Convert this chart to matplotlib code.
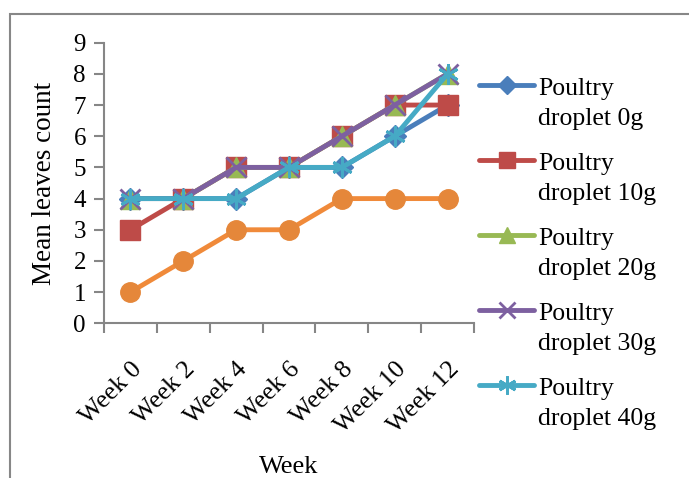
import numpy as np
import matplotlib

matplotlib.use("Agg")
import matplotlib.pyplot as plt
from matplotlib.lines import Line2D
from matplotlib.patches import Rectangle
from matplotlib.transforms import ScaledTranslation

plt.rcParams["font.family"] = ["Liberation Serif", "DejaVu Serif"]

# Data
weeks = ["Week 0", "Week 2", "Week 4", "Week 6", "Week 8", "Week 10", "Week 12"]
droplet_0g = [4, 4, 4, 5, 5, 6, 7]
droplet_10g = [3, 4, 5, 5, 6, 7, 7]
droplet_20g = [4, 4, 5, 5, 6, 7, 8]
droplet_30g = [4, 4, 5, 5, 6, 7, 8]
droplet_40g = [4, 4, 4, 5, 5, 6, 8]
extra_series = [1, 2, 3, 3, 4, 4, 4]  # orange line, no legend entry

labels = ["0g", "10g", "20g", "30g", "40g"]
series = [droplet_0g, droplet_10g, droplet_20g, droplet_30g, droplet_40g]
colors = ["#4A7EBB", "#BE4B48", "#98B954", "#7D60A0", "#46AAC5"]
markers = ["D", "s", "^", "x", (6, 2, 0)]
msizes = [11, 14, 14, 14, 15]

W, H = 689, 478
fig = plt.figure(figsize=(W / 100, H / 100), dpi=100)

# outer chart border (cut off at right and bottom)
fig.patches.append(Rectangle((10 / W, -0.1), 2, 1 - 14 / H + 0.1,
                             transform=fig.transFigure, fill=False,
                             edgecolor="#878787", lw=1.5))

ax = fig.add_axes([104 / W, 1 - 323.3 / H, 370 / W, 280.6 / H])
x = np.arange(len(weeks))

for vals, c, m, ms in zip(series, colors, markers, msizes):
    ax.plot(x, vals, color=c, lw=3.5, marker=m, ms=ms, mfc=c, mec=c,
            mew=2 if m in ("x",) or isinstance(m, tuple) else 1,
            solid_capstyle="round", clip_on=False)
ax.plot(x, extra_series, color="#F08A3A", lw=3.5, marker="o", ms=14,
        mfc="#E5873A", mec="#E5873A", clip_on=False)

ax.set_xlim(-0.5, 6.5)
ax.set_ylim(0, 9)
ax.set_yticks(range(10))
ax.set_xticks(np.arange(-0.5, 7, 1))
ax.set_xticklabels([])
ax.set_xticks(x, minor=True)
ax.set_xticklabels(weeks, minor=True, rotation=45, ha="right",
                   rotation_mode="anchor", fontsize=18.5)
# nudge rotated labels a little to the left
shift = ScaledTranslation(-5 / 100, 0, fig.dpi_scale_trans)
for lbl in ax.get_xticklabels(minor=True):
    lbl.set_transform(lbl.get_transform() + shift)
ax.tick_params(axis="x", which="minor", length=0, pad=25)
ax.tick_params(axis="x", which="major", length=7, width=1.5, color="#868686")
ax.tick_params(axis="y", length=7, width=1.5, color="#868686", labelsize=18,
               pad=6)
for s in ("top", "right"):
    ax.spines[s].set_visible(False)
for s in ("left", "bottom"):
    ax.spines[s].set_color("#868686")
    ax.spines[s].set_linewidth(1.5)

fig.text(45 / W, 1 - 183 / H, "Mean leaves count", rotation=90,
         ha="center", va="center", fontsize=19.5)
fig.text(289 / W, 1 - 473 / H, "Week", ha="center", va="baseline",
         fontsize=19)

# legend, drawn by hand so the handle sits on the first text line
for i, (lab, c, m, ms) in enumerate(zip(labels, colors, markers, msizes)):
    yc = 1 - (85 + 75 * i) / H
    fig.add_artist(Line2D([479 / W, 534 / W], [yc, yc], color=c, lw=3.5,
                          solid_capstyle="round"))
    fig.add_artist(Line2D([506.5 / W], [yc], color=c, marker=m,
                          ms=ms - 2, mfc=c, mec=c,
                          mew=2 if m == "x" or isinstance(m, tuple) else 1))
    fig.text(538 / W, 1 - (95 + 75 * i) / H, "Poultry", va="baseline",
             fontsize=18.5)
    fig.text(538 / W, 1 - (125 + 75 * i) / H, "droplet " + lab,
             va="baseline", fontsize=18.5)

fig.savefig("out.png", dpi=100)
